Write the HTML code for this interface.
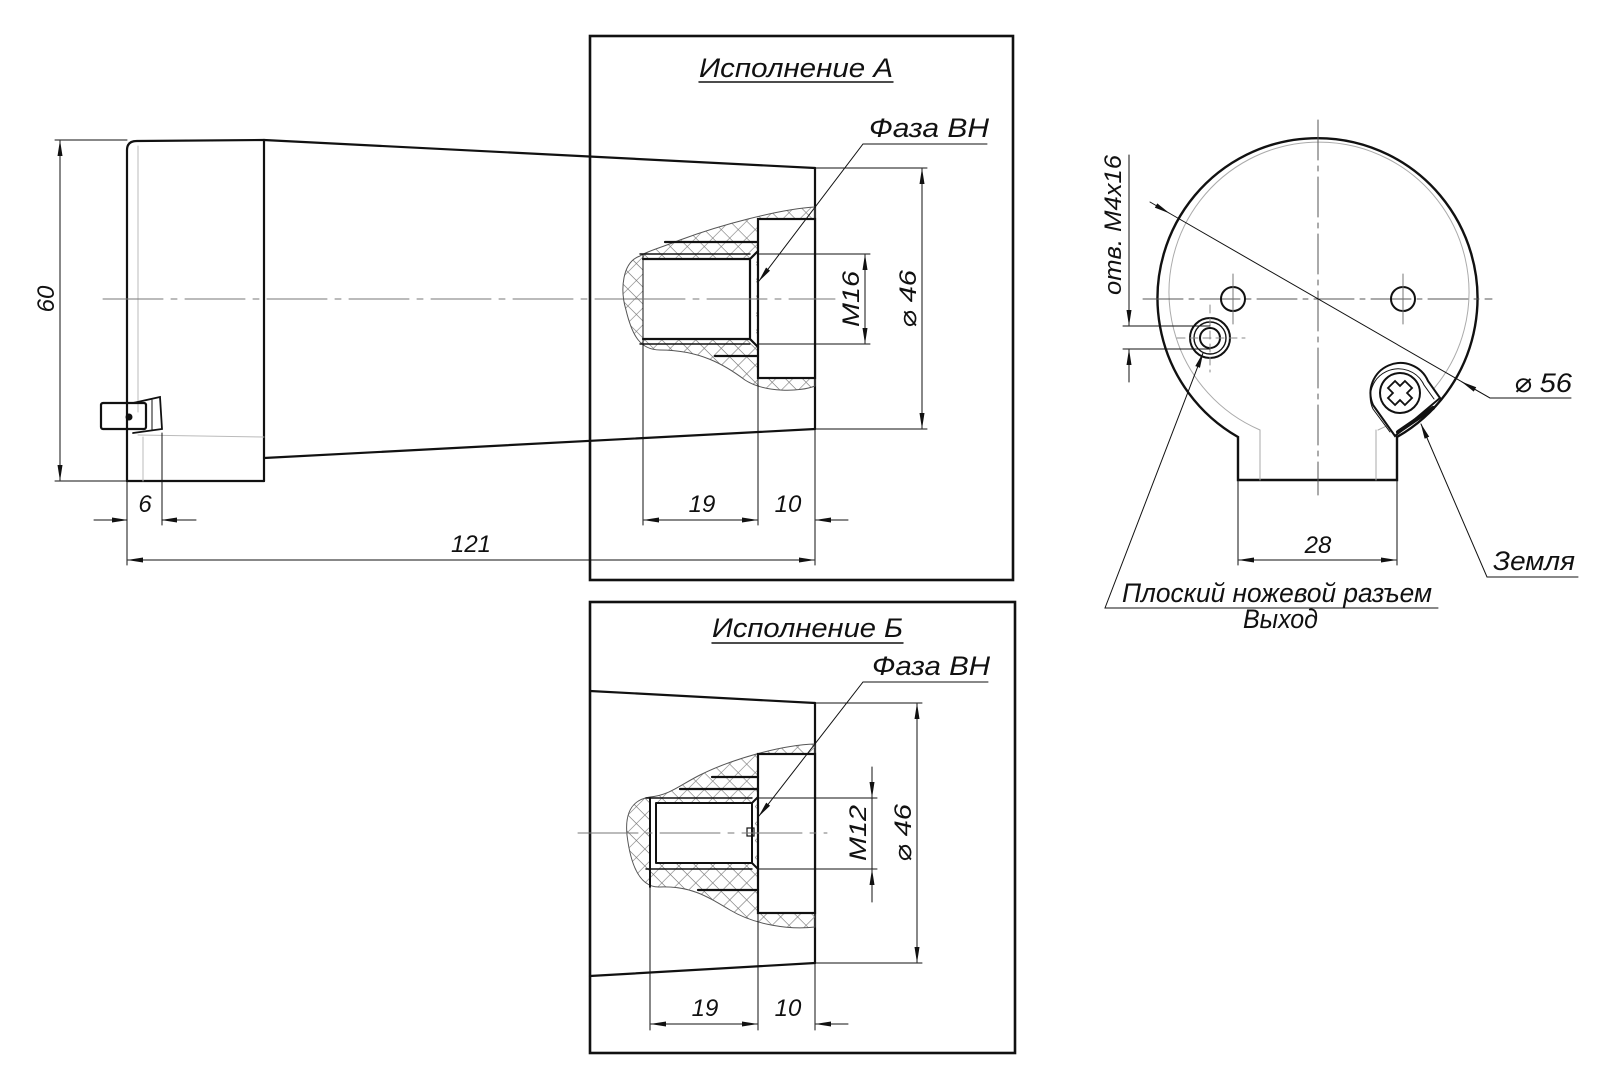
<!DOCTYPE html>
<html><head><meta charset="utf-8"><style>
html,body{margin:0;padding:0;background:#fff;}
svg{display:block;}
text{font-family:"Liberation Sans","DejaVu Sans",sans-serif;font-style:italic;fill:#111;}
</style></head><body>
<svg width="1599" height="1079" viewBox="0 0 1599 1079" xmlns="http://www.w3.org/2000/svg">
<defs>
<marker id="ar" markerWidth="16" markerHeight="8" refX="15" refY="4" orient="auto" markerUnits="userSpaceOnUse">
<path d="M0,1.5 L16,4 L0,6.5 Z" fill="#111"/></marker>
<pattern id="hx" width="12" height="12" patternUnits="userSpaceOnUse" patternTransform="rotate(45)">
<path d="M0,0 L0,12 M0,0 L12,0" stroke="#777" stroke-width="1.2"/></pattern>
</defs>
<g fill="none" stroke="#111" stroke-linecap="round">
<path d="M127,481 L127,150 Q127,141 137,141 L264,140" stroke-width="2.2"/>
<line x1="264" y1="140" x2="264" y2="481" stroke-width="2.2"/>
<line x1="127" y1="481" x2="264" y2="481" stroke-width="2.2"/>
<line x1="264" y1="140" x2="815" y2="168" stroke-width="2.2"/>
<line x1="264" y1="458" x2="815" y2="429" stroke-width="2.2"/>
<line x1="815" y1="168" x2="815" y2="429" stroke-width="2.2"/>
<line x1="138" y1="146" x2="138" y2="412" stroke="#bbb" stroke-width="1"/>
<line x1="138" y1="435" x2="264" y2="437" stroke="#bbb" stroke-width="1"/>
<line x1="143" y1="437" x2="143" y2="481" stroke="#bbb" stroke-width="1"/>
<rect x="101" y="403" width="45" height="26" rx="2" stroke-width="2.2"/>
<path d="M133,403 L160,397 L162,429 L133,433" stroke-width="1.8"/>
<line x1="152" y1="400" x2="152" y2="430" stroke-width="1"/>
<circle cx="129" cy="417" r="3" fill="#111"/>
<path d="M103,299 L625,299" stroke="#777" stroke-width="1" stroke-dasharray="60,8,6,8"/>
<line x1="55" y1="140" x2="127" y2="140" stroke-width="1"/>
<line x1="55" y1="481" x2="127" y2="481" stroke-width="1"/>
<line x1="60" y1="300" x2="60" y2="141" stroke-width="1" marker-end="url(#ar)"/>
<line x1="60" y1="300" x2="60" y2="480" stroke-width="1" marker-end="url(#ar)"/>
<line x1="127" y1="481" x2="127" y2="565" stroke-width="1"/>
<line x1="162" y1="433" x2="162" y2="525" stroke-width="1"/>
<line x1="94" y1="520" x2="127" y2="520" stroke-width="1" marker-end="url(#ar)"/>
<line x1="196" y1="520" x2="162" y2="520" stroke-width="1" marker-end="url(#ar)"/>
<line x1="470" y1="560" x2="128" y2="560" stroke-width="1" marker-end="url(#ar)"/>
<line x1="470" y1="560" x2="814" y2="560" stroke-width="1" marker-end="url(#ar)"/>

<rect x="590" y="36" width="423" height="544" stroke-width="2.6"/>
<path d="M815,207 C780,209 720,225 680,240 C660,248 645,252 640,256 C622,262 620,290 626,310 C632,335 640,350 660,350 C700,350 725,365 745,380 C765,393 800,392 815,386 Z" fill="url(#hx)" stroke="#555" stroke-width="1"/>
<rect x="643" y="259" width="113" height="80" fill="#fff" stroke="none"/>
<rect x="758" y="219" width="57" height="159" fill="#fff" stroke-width="2.2"/>
<line x1="665" y1="242" x2="758" y2="242" stroke-width="2.2"/>
<line x1="715" y1="356" x2="758" y2="356" stroke-width="2.2"/>
<line x1="640" y1="254" x2="750" y2="254" stroke-width="1.4"/>
<line x1="640" y1="344" x2="750" y2="344" stroke-width="1.4"/>
<path d="M643,259 L750,259 L758,251 M643,339 L750,339 L758,347 M750,259 L750,339" stroke-width="2.2"/>
<line x1="643" y1="254" x2="643" y2="525" stroke-width="1"/>
<line x1="758" y1="378" x2="758" y2="525" stroke-width="1"/>
<line x1="815" y1="429" x2="815" y2="565" stroke-width="1"/>
<path d="M625,299 L835,299" stroke="#777" stroke-width="1" stroke-dasharray="60,8,6,8"/>
<line x1="700" y1="520" x2="644" y2="520" stroke-width="1" marker-end="url(#ar)"/>
<line x1="700" y1="520" x2="757" y2="520" stroke-width="1" marker-end="url(#ar)"/>
<line x1="848" y1="520" x2="816" y2="520" stroke-width="1" marker-end="url(#ar)"/>
<line x1="758" y1="254" x2="870" y2="254" stroke-width="1"/>
<line x1="758" y1="344" x2="870" y2="344" stroke-width="1"/>
<line x1="865" y1="299" x2="865" y2="255" stroke-width="1" marker-end="url(#ar)"/>
<line x1="865" y1="299" x2="865" y2="343" stroke-width="1" marker-end="url(#ar)"/>
<line x1="815" y1="168" x2="927" y2="168" stroke-width="1"/>
<line x1="815" y1="429" x2="927" y2="429" stroke-width="1"/>
<line x1="922" y1="299" x2="922" y2="169" stroke-width="1" marker-end="url(#ar)"/>
<line x1="922" y1="299" x2="922" y2="428" stroke-width="1" marker-end="url(#ar)"/>
<path d="M987,144 L863,144 L759,281" stroke-width="1" marker-end="url(#ar)"/>
<line x1="699" y1="82" x2="893" y2="82" stroke-width="1.4"/>

<rect x="590" y="602" width="425" height="451" stroke-width="2.6"/>
<line x1="590" y1="691" x2="815" y2="703" stroke-width="2.2"/>
<line x1="590" y1="976" x2="815" y2="963" stroke-width="2.2"/>
<line x1="815" y1="703" x2="815" y2="963" stroke-width="2.2"/>
<path d="M815,744 C780,745 730,760 700,775 C680,785 670,795 650,797 C630,800 625,815 627,835 C630,860 638,888 660,887 C690,886 705,895 730,910 C755,925 790,930 815,927 Z" fill="url(#hx)" stroke="#555" stroke-width="1"/>
<rect x="650" y="803" width="105" height="60" fill="#fff" stroke="none"/>
<rect x="758" y="754" width="57" height="159" fill="#fff" stroke-width="2.2"/>
<line x1="712" y1="777" x2="758" y2="777" stroke-width="2.2"/>
<line x1="680" y1="789" x2="758" y2="789" stroke-width="2.2"/>
<line x1="698" y1="890" x2="758" y2="890" stroke-width="2.2"/>
<line x1="646" y1="798" x2="752" y2="798" stroke-width="1.4"/>
<line x1="646" y1="869" x2="752" y2="869" stroke-width="1.4"/>
<path d="M650,798 L650,887 M656,803 L752,803 L758,797 M656,863 L752,863 L758,869 M656,803 L656,863 M752,803 L752,863" stroke-width="2"/>
<rect x="747" y="828" width="7" height="8" stroke-width="1.2"/>
<path d="M578,833 L827,833" stroke="#777" stroke-width="1" stroke-dasharray="60,8,6,8"/>
<line x1="650" y1="887" x2="650" y2="1030" stroke-width="1"/>
<line x1="758" y1="913" x2="758" y2="1030" stroke-width="1"/>
<line x1="815" y1="963" x2="815" y2="1030" stroke-width="1"/>
<line x1="705" y1="1024" x2="651" y2="1024" stroke-width="1" marker-end="url(#ar)"/>
<line x1="705" y1="1024" x2="757" y2="1024" stroke-width="1" marker-end="url(#ar)"/>
<line x1="848" y1="1024" x2="816" y2="1024" stroke-width="1" marker-end="url(#ar)"/>
<line x1="758" y1="798" x2="877" y2="798" stroke-width="1"/>
<line x1="758" y1="869" x2="877" y2="869" stroke-width="1"/>
<line x1="872" y1="767" x2="872" y2="797" stroke-width="1" marker-end="url(#ar)"/>
<line x1="872" y1="902" x2="872" y2="870" stroke-width="1" marker-end="url(#ar)"/>
<line x1="872" y1="798" x2="872" y2="869" stroke-width="1"/>
<line x1="815" y1="703" x2="922" y2="703" stroke-width="1"/>
<line x1="815" y1="963" x2="922" y2="963" stroke-width="1"/>
<line x1="917" y1="833" x2="917" y2="704" stroke-width="1" marker-end="url(#ar)"/>
<line x1="917" y1="833" x2="917" y2="962" stroke-width="1" marker-end="url(#ar)"/>
<path d="M988,682 L863,682 L759,816" stroke-width="1" marker-end="url(#ar)"/>
<line x1="712" y1="643" x2="903" y2="643" stroke-width="1.4"/>

<path d="M1238,437 A160,160 0 1 1 1397,437 L1397,480 L1238,480 Z" stroke-width="2.4"/>
<path d="M1260,430 A150,150 0 1 1 1378,430" stroke="#aaa" stroke-width="1"/>
<line x1="1260" y1="430" x2="1260" y2="480" stroke="#aaa" stroke-width="1"/>
<line x1="1376" y1="430" x2="1376" y2="480" stroke="#aaa" stroke-width="1"/>
<path d="M1318,120 L1318,495" stroke="#555" stroke-width="1" stroke-dasharray="40,6,5,6"/>
<path d="M1143,299 L1492,299" stroke="#555" stroke-width="1" stroke-dasharray="40,6,5,6"/>
<circle cx="1233" cy="299" r="12" stroke-width="2"/>
<circle cx="1403" cy="299" r="12" stroke-width="2"/>
<line x1="1233" y1="274" x2="1233" y2="324" stroke="#777" stroke-width="1"/>
<line x1="1403" y1="274" x2="1403" y2="324" stroke="#777" stroke-width="1"/>
<circle cx="1210" cy="338" r="20" stroke-width="2"/>
<circle cx="1210" cy="338" r="16" stroke-width="1.4"/>
<circle cx="1210" cy="338" r="10" stroke-width="2"/>
<path d="M1177,338 L1245,338 M1210,305 L1210,372" stroke="#888" stroke-width="1" stroke-dasharray="8,5"/>
<path d="M1395,436 L1373,405 A30,30 0 1 1 1428,381 L1440,398 Z" stroke-width="2" fill="#fff"/>
<path d="M1390,432 L1373,409 A26,26 0 1 1 1424,385 L1434,399" stroke-width="1"/>
<line x1="1398" y1="432" x2="1433" y2="408" stroke-width="4"/>
<circle cx="1400" cy="393" r="20" stroke-width="2"/>
<path d="M1395,381 L1405,381 L1405,388 L1412,388 L1412,398 L1405,398 L1405,405 L1395,405 L1395,398 L1388,398 L1388,388 L1395,388 Z" stroke-width="1.8" transform="rotate(45 1400 393)"/>
<line x1="1150" y1="202" x2="1169" y2="213" stroke-width="1" marker-end="url(#ar)"/>
<path d="M1169,213 L1490,398" stroke-width="1"/>
<line x1="1490" y1="398" x2="1462" y2="382" stroke-width="1" marker-end="url(#ar)"/>
<line x1="1490" y1="398" x2="1571" y2="398" stroke-width="1"/>
<line x1="1123" y1="326" x2="1210" y2="326" stroke-width="1"/>
<line x1="1123" y1="349" x2="1210" y2="349" stroke-width="1"/>
<line x1="1129" y1="155" x2="1129" y2="325" stroke-width="1" marker-end="url(#ar)"/>
<line x1="1129" y1="382" x2="1129" y2="350" stroke-width="1" marker-end="url(#ar)"/>
<line x1="1238" y1="480" x2="1238" y2="565" stroke-width="1"/>
<line x1="1397" y1="480" x2="1397" y2="565" stroke-width="1"/>
<line x1="1318" y1="560" x2="1239" y2="560" stroke-width="1" marker-end="url(#ar)"/>
<line x1="1318" y1="560" x2="1396" y2="560" stroke-width="1" marker-end="url(#ar)"/>
<path d="M1438,608 L1105,608 L1203,353" stroke-width="1" marker-end="url(#ar)"/>
<path d="M1578,577 L1487,577 L1421,424" stroke-width="1" marker-end="url(#ar)"/>
</g>
<g font-size="27">
<text x="699" y="77" textLength="194" lengthAdjust="spacingAndGlyphs">Исполнение А</text>
<text x="712" y="637" textLength="191" lengthAdjust="spacingAndGlyphs">Исполнение Б</text>
<text x="869" y="137" textLength="120" lengthAdjust="spacingAndGlyphs">Фаза ВН</text>
<text x="872" y="675" textLength="118" lengthAdjust="spacingAndGlyphs">Фаза ВН</text>
<text x="1493" y="570" textLength="82" lengthAdjust="spacingAndGlyphs">Земля</text>
<text x="1122" y="602" textLength="310" lengthAdjust="spacingAndGlyphs">Плоский ножевой разъем</text>
<text x="1243" y="628" textLength="75" lengthAdjust="spacingAndGlyphs">Выход</text>
<text x="1514" y="392" textLength="58" lengthAdjust="spacingAndGlyphs">⌀ 56</text>
</g>
<g font-size="24">
<text x="145" y="512" text-anchor="middle">6</text>
<text x="471" y="552" text-anchor="middle">121</text>
<text x="702" y="512" text-anchor="middle">19</text>
<text x="788" y="512" text-anchor="middle">10</text>
<text x="705" y="1016" text-anchor="middle">19</text>
<text x="788" y="1016" text-anchor="middle">10</text>
<text x="1318" y="553" text-anchor="middle">28</text>
<text transform="translate(54,299) rotate(-90)" text-anchor="middle">60</text>
<text transform="translate(859,299) rotate(-90)" text-anchor="middle" textLength="56" lengthAdjust="spacingAndGlyphs">M16</text>
<text transform="translate(916,299) rotate(-90)" text-anchor="middle" textLength="58" lengthAdjust="spacingAndGlyphs">⌀ 46</text>
<text transform="translate(866,833) rotate(-90)" text-anchor="middle" textLength="56" lengthAdjust="spacingAndGlyphs">M12</text>
<text transform="translate(911,833) rotate(-90)" text-anchor="middle" textLength="58" lengthAdjust="spacingAndGlyphs">⌀ 46</text>
<text transform="translate(1121,225) rotate(-90)" text-anchor="middle" textLength="140" lengthAdjust="spacingAndGlyphs">отв. M4x16</text>
</g>
</svg>
</body></html>
